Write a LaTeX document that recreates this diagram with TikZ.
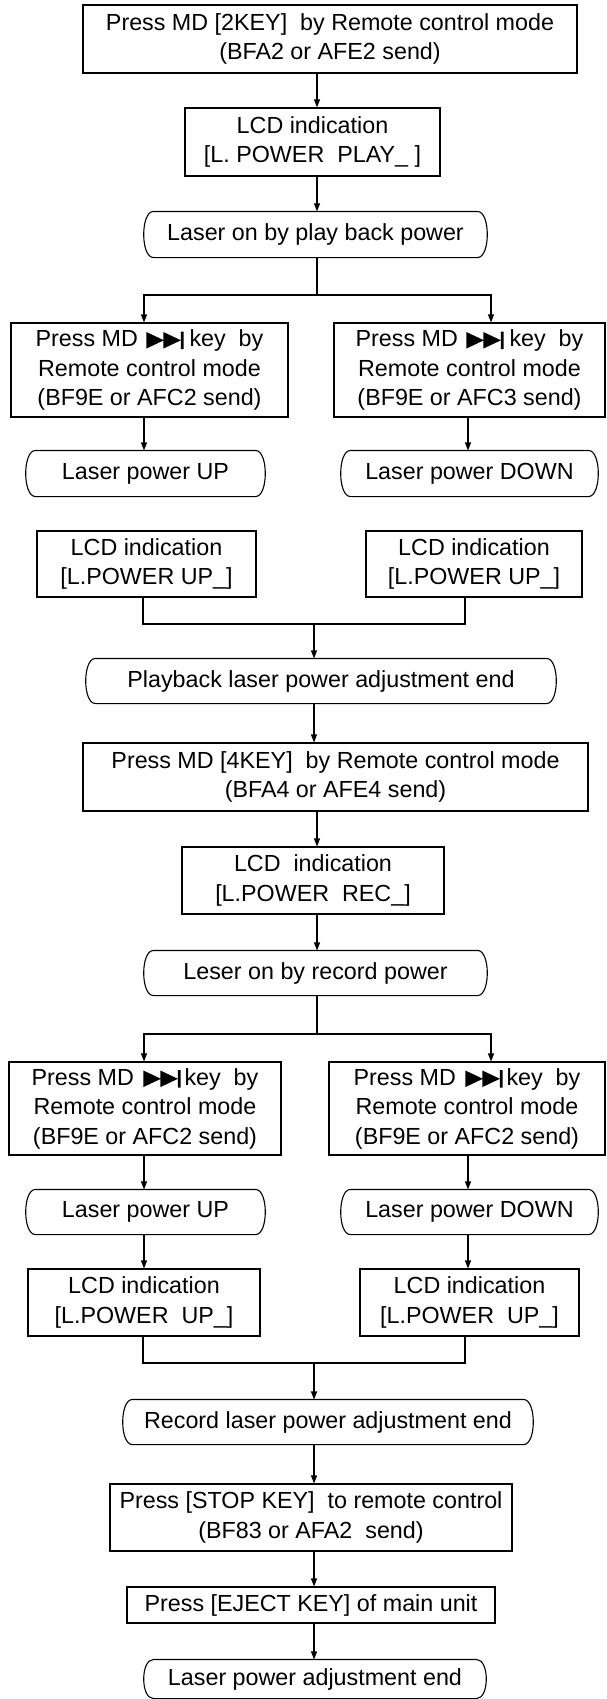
\documentclass[tikz,border=0pt]{standalone}
\usepackage{fontspec}
\setmainfont{Liberation Sans}
\usetikzlibrary{arrows.meta}
\newsavebox\ffbox
\begin{document}
\sbox\ffbox{\pgfpicture
\pgfpathmoveto{\pgfpoint{0pt}{-2pt}}\pgfpathlineto{\pgfpoint{0pt}{14.5pt}}\pgfpathlineto{\pgfpoint{17.5pt}{6.25pt}}\pgfpathclose
\pgfpathmoveto{\pgfpoint{17pt}{-2pt}}\pgfpathlineto{\pgfpoint{17pt}{14.5pt}}\pgfpathlineto{\pgfpoint{34.5pt}{6.25pt}}\pgfpathclose
\pgfpathrectangle{\pgfpoint{34.5pt}{-2.5pt}}{\pgfpoint{2.6pt}{17.5pt}}
\pgfusepath{fill}
\pgfsetbaseline{0pt}
\endpgfpicture}%
\begin{tikzpicture}[x=1pt,y=-1pt,
  box/.style={draw,line width=1.1pt,inner sep=0pt,align=center,font=\fontsize{23.3}{29.5}\selectfont},
  rbox/.style={box,draw=none},
  pill/.style={line width=1.1pt},
  arr/.style={line width=1.1pt,-{Triangle[length=8pt,width=6pt]}},
  ln/.style={line width=1.1pt}]
\useasboundingbox (0,0) rectangle (607,1699);
% nodes
\node[box,minimum width=494pt,minimum height=68pt] (b1) at (330,39) {Press MD [2KEY]\ \ by Remote control mode\\(BFA2 or AFE2 send)};
\node[box,minimum width=255pt,minimum height=68pt] (b2) at (312.5,142) {LCD indication\\{}[L. POWER\ \ PLAY\_\ ]};
\node[rbox,minimum width=343pt,minimum height=45pt] (b3) at (315.5,234.5) {Laser on by play back power};
\node[box,minimum width=277pt,minimum height=94pt] (b4) at (149.5,370) {Press MD\kern2pt\ \usebox\ffbox\kern6pt key\ \ by\\Remote control mode\\(BF9E or AFC2 send)};
\node[box,minimum width=271pt,minimum height=94pt] (b5) at (469.5,370) {Press MD\kern2pt\ \usebox\ffbox\kern6pt key\ \ by\\Remote control mode\\(BF9E or AFC3 send)};
\node[rbox,minimum width=239pt,minimum height=45pt] (b6) at (145.5,473.5) {Laser power UP};
\node[rbox,minimum width=257pt,minimum height=45pt] (b7) at (469.5,473.5) {Laser power DOWN};
\node[box,minimum width=219pt,minimum height=66pt] (b8) at (146.5,564) {LCD indication\\{}[L.POWER UP\_]};
\node[box,minimum width=216pt,minimum height=66pt] (b9) at (474,564) {LCD indication\\{}[L.POWER UP\_]};
\node[rbox,minimum width=470pt,minimum height=44pt] (b10) at (321,681) {Playback laser power adjustment end};
\node[box,minimum width=505pt,minimum height=68pt] (b11) at (335.5,777) {Press MD [4KEY]\ \ by Remote control mode\\(BFA4 or AFE4 send)};
\node[box,minimum width=262pt,minimum height=67pt] (b12) at (313,880.5) {LCD\ \ indication\\{}[L.POWER\ \ REC\_]};
\node[rbox,minimum width=343pt,minimum height=44pt] (b13) at (315.5,973) {Leser on by record power};
\node[box,minimum width=272pt,minimum height=93pt] (b14) at (145,1108.5) {Press MD\kern3pt\ \usebox\ffbox\kern4pt key\ \ by\\Remote control mode\\(BF9E or AFC2 send)};
\node[box,minimum width=276pt,minimum height=93pt] (b15) at (467,1108.5) {Press MD\kern3pt\ \usebox\ffbox\kern4pt key\ \ by\\Remote control mode\\(BF9E or AFC2 send)};
\node[rbox,minimum width=239pt,minimum height=44pt] (b16) at (145.5,1212) {Laser power UP};
\node[rbox,minimum width=257pt,minimum height=44pt] (b17) at (469.5,1212) {Laser power DOWN};
\node[box,minimum width=232pt,minimum height=67pt] (b18) at (144,1302.5) {LCD indication\\{}[L.POWER\ \ UP\_]};
\node[box,minimum width=219pt,minimum height=67pt] (b19) at (469.5,1302.5) {LCD indication\\{}[L.POWER\ \ UP\_]};
\node[rbox,minimum width=410pt,minimum height=44pt] (b20) at (328,1422) {Record laser power adjustment end};
\node[box,minimum width=402pt,minimum height=67pt] (b21) at (311,1517.5) {Press [STOP KEY]\ \ to remote control\\(BF83 or AFA2\ \ send)};
\node[box,minimum width=368pt,minimum height=36pt] (b22) at (311,1605) {Press [EJECT KEY] of main unit};
\node[rbox,minimum width=342pt,minimum height=38pt] (b23) at (315,1679) {Laser power adjustment end};
% outlines of the rounded terminal boxes
\foreach \n in {b3,b6,b7,b10,b13,b16,b17,b20,b23}{
  \draw[pill] ([xshift=10pt]\n.north west) -- ([xshift=-10pt]\n.north east)
    .. controls ([xshift=3pt]\n.north east) and ([xshift=3pt]\n.south east) .. ([xshift=-10pt]\n.south east)
    -- ([xshift=10pt]\n.south west)
    .. controls ([xshift=-3pt]\n.south west) and ([xshift=-3pt]\n.north west) .. cycle;
}
% x positions of connectors
\coordinate (xa) at (317,0);
\coordinate (xb) at (314,0);
\coordinate (xl) at (144,0);
\coordinate (xr) at (491,0);
\coordinate (xr2) at (468,0);
\coordinate (xl2) at (143,0);
\coordinate (xr3) at (465,0);
\coordinate (s1) at (317,295);
\coordinate (s2) at (317,1034);
\coordinate (m1) at (314,624);
\coordinate (m2) at (314,1363);
% connectors
\draw[arr] (b1.south -| xa) -- (b2.north -| xa);
\draw[arr] (b2.south -| xa) -- (b3.north -| xa);
\draw[ln] (b3.south -| xa) -- (s1);
\draw[arr] (s1) -| (b4.north -| xl);
\draw[arr] (s1) -| (b5.north -| xr);
\draw[arr] (b4.south -| xl) -- (b6.north -| xl);
\draw[arr] (b5.south -| xr2) -- (b7.north -| xr2);
\draw[ln] (b8.south -| xl2) |- (m1);
\draw[ln] (b9.south -| xr3) |- (m1);
\draw[arr] (m1) -- (b10.north -| m1);
\draw[arr] (b10.south -| xb) -- (b11.north -| xb);
\draw[arr] (b11.south -| xa) -- (b12.north -| xa);
\draw[arr] (b12.south -| xa) -- (b13.north -| xa);
\draw[ln] (b13.south -| xa) -- (s2);
\draw[arr] (s2) -| (b14.north -| xl);
\draw[arr] (s2) -| (b15.north -| xr);
\draw[arr] (b14.south -| xl) -- (b16.north -| xl);
\draw[arr] (b15.south -| xr2) -- (b17.north -| xr2);
\draw[arr] (b16.south -| xl) -- (b18.north -| xl);
\draw[arr] (b17.south -| xr2) -- (b19.north -| xr2);
\draw[ln] (b18.south -| xl2) |- (m2);
\draw[ln] (b19.south -| xr3) |- (m2);
\draw[arr] (m2) -- (b20.north -| m2);
\draw[arr] (b20.south -| xb) -- (b21.north -| xb);
\draw[arr] (b21.south -| xb) -- (b22.north -| xb);
\draw[arr] (b22.south -| xb) -- (b23.north -| xb);
\end{tikzpicture}
\end{document}
